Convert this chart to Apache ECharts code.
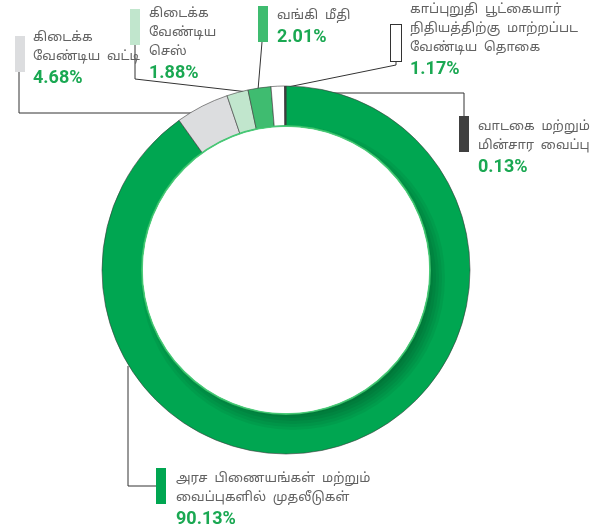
<!DOCTYPE html>
<html>
<head>
<meta charset="utf-8">
<script src="https://cdn.jsdelivr.net/npm/echarts@6/dist/echarts.min.js"></script>
<style>
  html, body { margin: 0; padding: 0; background: #fff; }
  #main { width: 594px; height: 528px; }
</style>
</head>
<body>
<div id="main"></div>
<script>
// data, clockwise from 12 o'clock
var names = [
  'அரச  பிணையங்கள்  மற்றும்\nவைப்புகளில்  முதலீடுகள்',
  'கிடைக்க\nவேண்டிய  வட்டி',
  'கிடைக்க\nவேண்டிய\nசெஸ்',
  'வங்கி  மீதி',
  'காப்புறுதி  பூட்கையார்\nநிதியத்திற்கு  மாற்றப்பட\nவேண்டிய  தொகை',
  'வாடகை  மற்றும்\nமின்சார  வைப்பு'
];
var values = [90.13, 4.68, 1.88, 2.01, 1.17, 0.13];
var colors = ['#00a651', '#dcdddf', '#c1e6cd', '#3fbc70', '#ffffff', '#404040'];

// label placement (top-left of text block, marker box, leader line)
var textPos = [[176, 470], [33, 29], [149, 5], [277, 7], [410, 1], [478, 118]];
var markerPos = [[156, 468], [15, 36], [130, 9], [258, 6], [391, 25], [459, 116]];
var linePts = [
  [[128, 366], [128, 486], [156, 486]],
  [[197, 113], [19, 113], [19, 72]],
  [[248, 92], [135, 79], [135, 45]],
  [[258, 90], [260, 66], [262, 42]],
  [[283, 88], [396, 65], [396, 62]],
  [[285, 93], [464, 93], [464, 116]]
];

var center = [286, 270];
var inner = 144, outer = 184;
var tamil = '"Noto Sans Tamil", "Lohit Tamil", "Noto Sans", sans-serif';

var chart = echarts.init(document.getElementById('main'));

var ringData = values.map(function (v, i) {
  return { value: v, name: names[i], itemStyle: { color: colors[i] } };
});

var markerData = values.map(function (v, i) {
  return {
    value: v,
    name: names[i],
    label: {
      backgroundColor: colors[i],
      borderColor: i === 4 ? '#333' : 'transparent',
      borderWidth: i === 4 ? 1 : 0
    }
  };
});

// soft shadow of the hole on the lower right of the ring: stacked translucent discs
var graphics = [];
for (var r = 134; r <= 152; r += 3) {
  graphics.push({
    type: 'circle', z: 50, silent: true,
    shape: { cx: center[0] + 7, cy: center[1] + 8, r: r },
    style: { fill: 'rgba(0,0,0,0.05)' }
  });
}
graphics.push({
  type: 'circle', z: 51, silent: true,
  shape: { cx: center[0], cy: center[1], r: inner },
  style: { fill: '#ffffff', stroke: 'rgba(60,200,110,0.9)', lineWidth: 2 }
});
graphics.push({
  type: 'circle', z: 52, silent: true,
  shape: { cx: center[0], cy: center[1], r: inner - 1 },
  style: { fill: '#ffffff' }
});

var option = {
  animation: false,
  graphic: graphics,
  series: [
    {
      type: 'pie',
      center: center,
      radius: [inner, outer],
      startAngle: 90,
      clockwise: true,
      silent: true,
      itemStyle: { borderColor: '#3a3a3a', borderWidth: 0.6 },
      label: {
        show: true,
        position: 'outside',
        align: 'left',
        overflow: 'none',
        width: 220,
        formatter: function (p) {
          var lines = p.name.split('\n').map(function (s) { return '{t|' + s + '}'; });
          return lines.join('\n') + '\n{p|' + p.value.toFixed(2) + '%}';
        },
        rich: {
          t: { color: '#626262', fontSize: 13, lineHeight: 19, fontFamily: tamil },
          p: { color: '#1aa852', fontSize: 18, fontWeight: 'bold', lineHeight: 22, fontFamily: 'Roboto' }
        }
      },
      labelLine: { show: false },
      labelLayout: function (p) {
        var pos = textPos[p.dataIndex];
        return { x: pos[0], y: pos[1], align: 'left', verticalAlign: 'top' };
      },
      data: ringData
    },
    {
      // colour markers and leader lines
      type: 'pie',
      center: center,
      radius: [inner, outer],
      startAngle: 90,
      clockwise: true,
      silent: true,
      itemStyle: { color: 'transparent' },
      label: {
        show: true,
        position: 'outside',
        formatter: ' ',
        width: 10,
        height: 36,
        padding: 0,
        fontSize: 1
      },
      labelLine: { show: true, lineStyle: { color: '#333', width: 1 } },
      labelLayout: function (p) {
        var pos = markerPos[p.dataIndex];
        return {
          x: pos[0], y: pos[1], align: 'left', verticalAlign: 'top',
          labelLinePoints: linePts[p.dataIndex]
        };
      },
      data: markerData
    }
  ]
};
chart.setOption(option);
</script>
</body>
</html>
